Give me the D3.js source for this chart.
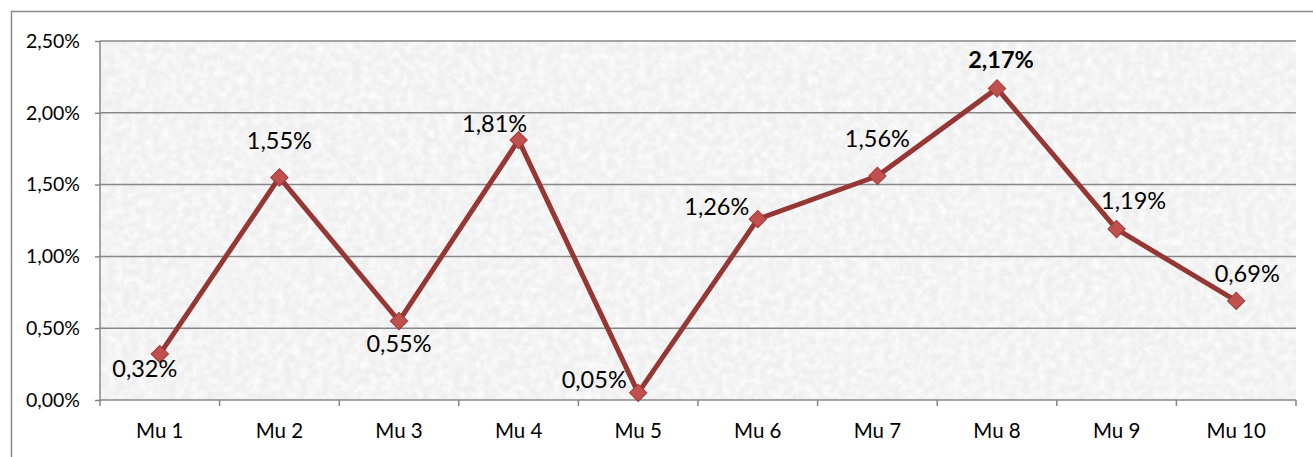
<!DOCTYPE html>
<html><head><meta charset="utf-8">
<script src="https://cdn.jsdelivr.net/npm/d3@7"></script>
<style>html,body{margin:0;padding:0;background:#fff;}svg{display:block;}</style>
</head><body>
<svg id="c" width="1313" height="457"></svg>
<script>
const categories = ["Mu 1","Mu 2","Mu 3","Mu 4","Mu 5","Mu 6","Mu 7","Mu 8","Mu 9","Mu 10"];
const values = [0.32, 1.55, 0.55, 1.81, 0.05, 1.26, 1.56, 2.17, 1.19, 0.69];
const yTicks = [0, 0.5, 1.0, 1.5, 2.0, 2.5];
const boldIndex = 7;
// label offsets (dx, dy) relative to the point
const labelOffsets = [[-15,23],[0,-28],[0,31],[-24,-8],[-44,-5],[-41,-4],[0,-29],[4,-20],[17,-20],[11,-19]];

const fmt = v => v.toFixed(2).replace(".", ",") + "%";
const svg = d3.select("#c");
const L = 100, R = 1296, T = 41, B = 400;
const x = d3.scaleBand().domain(categories).range([L, R]);
const y = d3.scaleLinear().domain([0, 2.5]).range([B, T]);

const defs = svg.append("defs");
const f = defs.append("filter").attr("id","noise").attr("x",0).attr("y",0).attr("width","100%").attr("height","100%");
f.append("feTurbulence").attr("type","fractalNoise").attr("baseFrequency","0.13").attr("numOctaves",3).attr("seed",4).attr("result","t");
f.append("feColorMatrix").attr("in","t").attr("type","matrix")
 .attr("values","0 0 0 0 1  0 0 0 0 1  0 0 0 0 1  1.8 0 0 0 -0.6").attr("result","w");
f.append("feComposite").attr("in","w").attr("in2","SourceGraphic").attr("operator","in");

// outer border
svg.append("rect").attr("x",11.5).attr("y",11.5).attr("width",1320).attr("height",460)
  .attr("fill","#fff").attr("stroke","#8a8a8a").attr("stroke-width",1.5);

// plot bg
svg.append("rect").attr("x",L).attr("y",T).attr("width",R-L).attr("height",B-T).attr("fill","#efefef");
svg.append("rect").attr("x",L).attr("y",T).attr("width",R-L).attr("height",B-T).attr("fill","#fff").attr("filter","url(#noise)").attr("opacity",0.9);

// gridlines
svg.append("g").selectAll("line").data(yTicks.filter(d=>d>0)).join("line")
  .attr("x1",L).attr("x2",R).attr("y1",d=>y(d)).attr("y2",d=>y(d))
  .attr("stroke","#878787").attr("stroke-width",1.5);

// y axis
const yAxis = d3.axisLeft(y).tickValues(yTicks).tickFormat(fmt).tickSize(5).tickPadding(15);
const gy = svg.append("g").attr("transform",`translate(${L},0)`).call(yAxis);
gy.select(".domain").attr("stroke","#878787").attr("stroke-width",1.5).attr("d",`M0,${T}V${B}`);
gy.selectAll(".tick line").attr("stroke","#878787").attr("stroke-width",1.5);
gy.selectAll(".tick text").attr("font-family","Lato, sans-serif").attr("font-size",19.5).attr("fill","#000");

// x axis
const gx = svg.append("g").attr("transform",`translate(0,${B})`);
gx.append("line").attr("x1",L).attr("x2",R).attr("stroke","#878787").attr("stroke-width",1.5);
const tickPos = categories.map(c=>x(c)).concat([R]);
gx.selectAll("line.t").data(tickPos).join("line").attr("class","t")
  .attr("x1",d=>d).attr("x2",d=>d).attr("y1",0).attr("y2",6).attr("stroke","#878787").attr("stroke-width",1.5);
gx.selectAll("text").data(categories).join("text")
  .attr("x",d=>x(d)+x.bandwidth()/2).attr("y",38).attr("text-anchor","middle")
  .attr("font-family","Lato, sans-serif").attr("font-size",20.5).attr("fill","#000").text(d=>d);

// line
const cx = (d,i) => x(categories[i]) + x.bandwidth()/2;
const line = d3.line().x((d,i)=>cx(d,i)).y(d=>y(d));
svg.append("path").datum(values).attr("d",line).attr("fill","none")
  .attr("stroke","#953735").attr("stroke-width",5).attr("stroke-linejoin","round");

// markers
svg.append("g").selectAll("path").data(values).join("path")
  .attr("d", d3.symbol().type(d3.symbolSquare).size(150))
  .attr("transform",(d,i)=>`translate(${cx(d,i)},${y(d)}) rotate(45)`)
  .attr("fill","#c0504d").attr("stroke","#a23b39").attr("stroke-width",1);

// labels
svg.append("g").selectAll("text").data(values).join("text")
  .attr("x",(d,i)=>cx(d,i)+labelOffsets[i][0]).attr("y",(d,i)=>y(d)+labelOffsets[i][1])
  .attr("text-anchor","middle").attr("font-family","Lato, sans-serif").attr("font-size",23.5)
  .attr("font-weight",(d,i)=>i===boldIndex?"bold":"normal").attr("fill","#000").text(fmt);
</script>
</body></html>
